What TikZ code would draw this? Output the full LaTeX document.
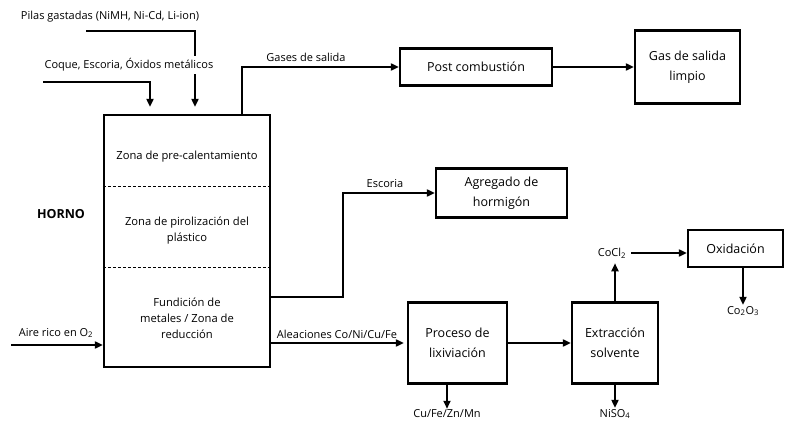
\documentclass[tikz,border=0pt]{standalone}
\usepackage{fontspec}
\setmainfont{Open Sans}
\usetikzlibrary{arrows.meta,positioning}

\begin{document}
\begin{tikzpicture}[x=1pt,y=-1pt,
    caja/.style={draw,line width=2.2pt,align=center,inner sep=0pt,
      font=\fontsize{12.5}{20}\selectfont},
    flujo/.style={line width=1.8pt,-{Triangle[length=8pt,width=7pt]}},
    etiq/.style={inner sep=1pt,font=\fontsize{11}{12}\selectfont},
    zona/.style={align=center,font=\fontsize{11.2}{16}\selectfont}]

  \useasboundingbox (0,0) rectangle (790,425);

  % horno y sus zonas
  \node[draw,line width=2.2pt,minimum width=166pt,minimum height=252pt,
    inner sep=0pt] (horno) at (187,241) {};
  \draw[line width=0.7pt,dash pattern=on 3pt off 2pt]
    (horno.west |- 0,186) -- (horno.east |- 0,186)
    (horno.west |- 0,267) -- (horno.east |- 0,267);
  \node[zona] (precal) at (187,157) {Zona de pre-calentamiento};
  \node[zona] (pirol) at (187,231) {Zona de pirolización del\\plástico};
  \node[zona] (fundic) at (187,318) {Fundición de\\metales / Zona de\\reducción};
  \node[font=\bfseries\fontsize{12.5}{14}\selectfont] (hornolbl) at (61,214) {HORNO};

  % entradas
  \coordinate (pilasini) at (86,31);
  \coordinate (coqueini) at (43,82);
  \coordinate (aireini) at (11,345);
  \draw[flujo,shorten >=7pt] (pilasini) -| (195,0 |- horno.north);
  \draw[flujo,shorten >=7pt] (coqueini) -| (150,0 |- horno.north);
  \node[etiq] (pilas) at (110,17) {Pilas gastadas (NiMH, Ni-Cd, Li-ion)};
  \node[etiq,fill=white,inner sep=3pt] (coque) at (129,65) {Coque, Escoria, Óxidos metálicos};
  \node[etiq] (aire) at (56,333) {Aire rico en O\textsubscript{2}};
  \draw[flujo] (aireini) -- (horno.west |- aireini);

  % gases
  \node[caja,minimum width=152pt,minimum height=37pt] (post) at (476,67) {Post combustión};
  \node[caja,minimum width=105pt,minimum height=73pt] (limpio) at (687.5,67) {Gas de salida\\limpio};
  \node[etiq] (gaseslbl) at (306,57) {Gases de salida};
  \draw[flujo] (horno.north -| 242,0) |- (post.west);
  \draw[flujo] (post) -- (limpio);

  % escoria
  \node[caja,minimum width=131pt,minimum height=49pt] (agregado) at (501.5,193) {Agregado de\\hormigón};
  \node[etiq] (escorialbl) at (385,184) {Escoria};
  \draw[flujo] (horno.east |- 0,297) -- (343,297) |- (agregado.west);

  % aleaciones
  \node[caja,minimum width=99pt,minimum height=81pt] (proceso) at (457.5,343) {Proceso de\\lixiviación};
  \node[caja,minimum width=86pt,minimum height=81pt] (extrac) at (615,343) {Extracción\\solvente};
  \node[caja,minimum width=95pt,minimum height=37pt] (oxid) at (735.5,248.5) {Oxidación};
  \node[etiq] (alealbl) at (337,334) {Aleaciones Co/Ni/Cu/Fe};
  \draw[flujo,shorten >=3pt] (horno.east |- proceso.west) -- (proceso.west);
  \draw[flujo] (proceso) -- (extrac);

  % productos
  \node[etiq] (cocl) at (612,253) {CoCl\textsubscript{2}};
  \node[etiq] (coox) at (743,311) {Co\textsubscript{2}O\textsubscript{3}};
  \node[etiq] (cufe) at (447,414) {Cu/Fe/Zn/Mn};
  \node[etiq] (niso) at (615,414) {NiSO\textsubscript{4}};
  \draw[flujo,shorten >=4pt] (extrac.north) -- (extrac.north |- cocl.south);
  \draw[flujo,shorten <=4pt] (cocl.east) -- (oxid.west |- cocl.east);
  \draw[flujo] (oxid.south -| coox) -- (coox.north);
  \draw[flujo] (proceso.south -| cufe) -- (cufe.north);
  \draw[flujo] (extrac.south) -- (niso.north);
\end{tikzpicture}
\end{document}
